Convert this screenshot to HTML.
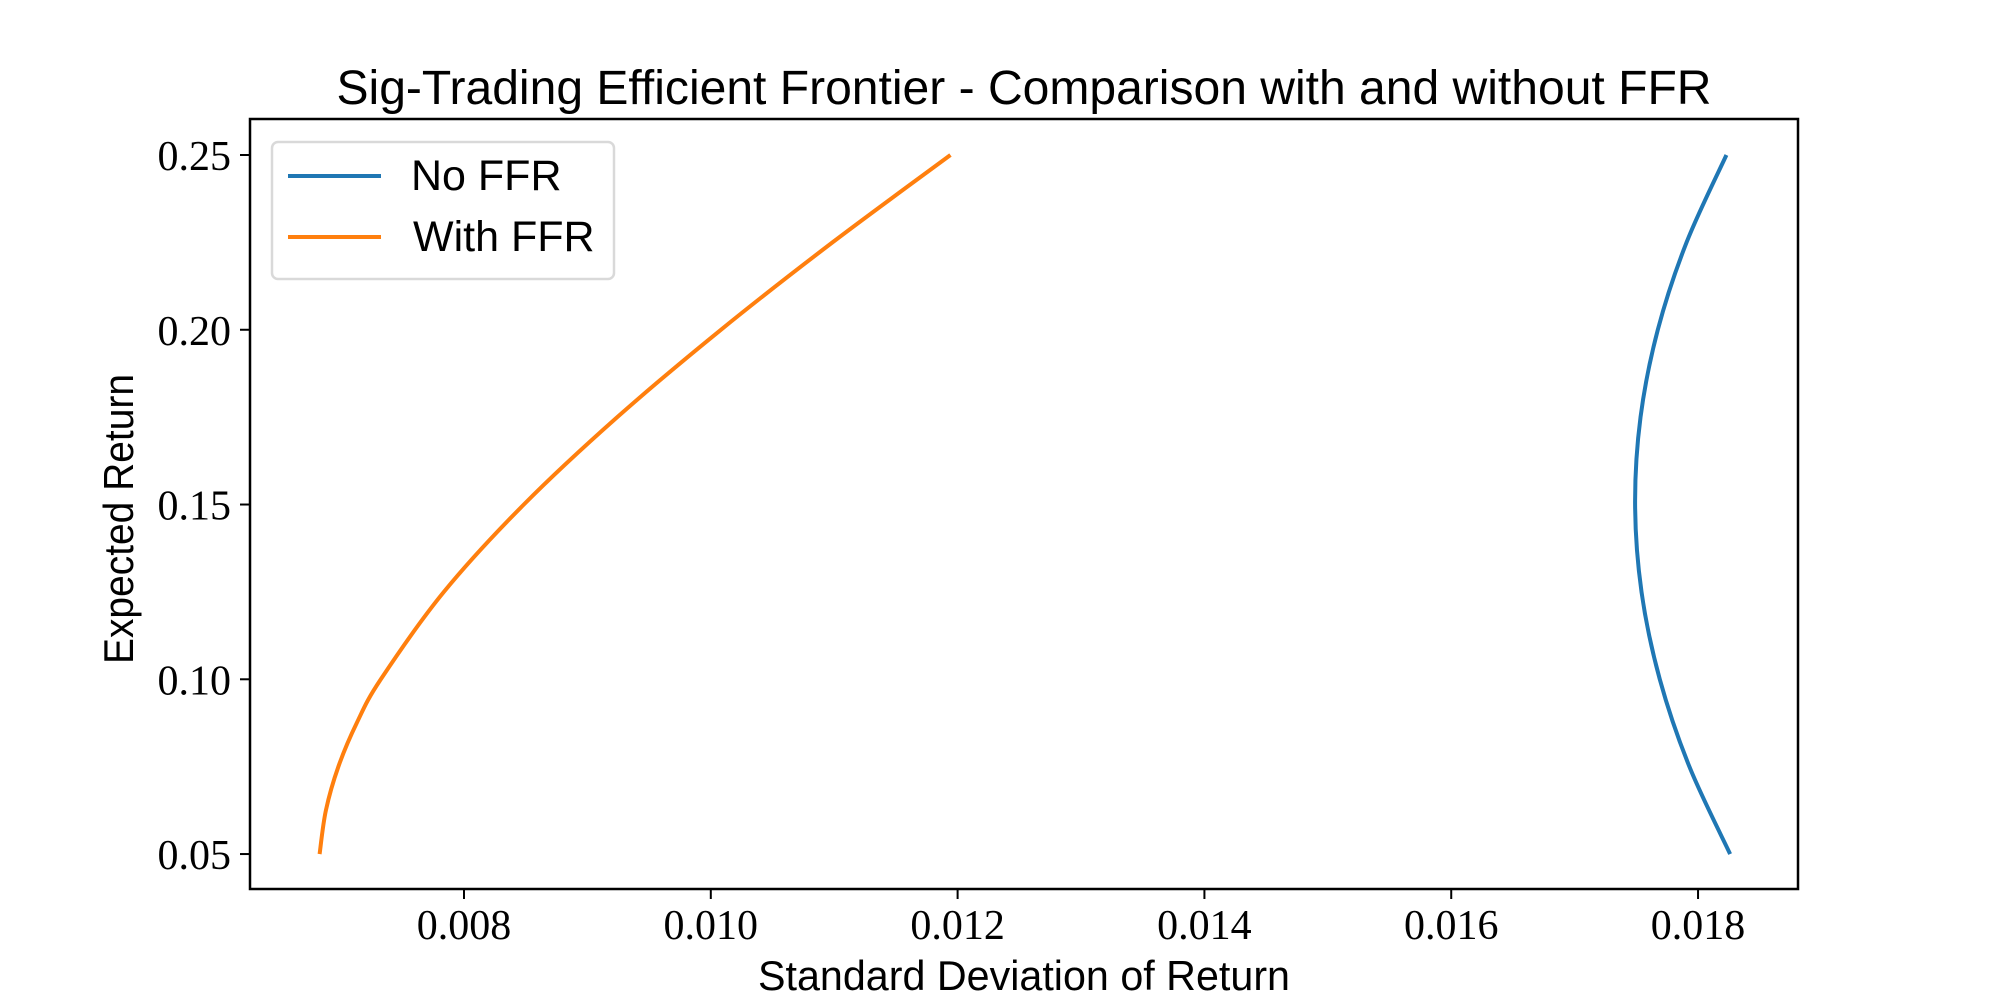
<!DOCTYPE html>
<html><head><meta charset="utf-8"><style>
html,body{margin:0;padding:0;background:#fff;}
svg{display:block;}
</style></head><body>
<svg id="chart" width="2000" height="1000" viewBox="0 0 2000 1000" xmlns="http://www.w3.org/2000/svg">
<rect width="2000" height="1000" fill="#fff"/>
<text x="1024" y="104" text-anchor="middle" font-family="'Liberation Sans', sans-serif" font-size="48" textLength="1375" lengthAdjust="spacingAndGlyphs">Sig-Trading Efficient Frontier - Comparison with and without FFR</text>
<g id="plot"></g>
<rect x="250" y="119" width="1548" height="770" fill="none" stroke="#000" stroke-width="2.5"/>
<g id="xticks"></g><g id="yticks"></g>
<text x="1024" y="990" text-anchor="middle" font-family="'Liberation Sans', sans-serif" font-size="42" textLength="532" lengthAdjust="spacingAndGlyphs">Standard Deviation of Return</text>
<text transform="translate(133,519) rotate(-90)" text-anchor="middle" font-family="'Liberation Sans', sans-serif" font-size="42" textLength="290" lengthAdjust="spacingAndGlyphs">Expected Return</text>
<g>
<rect x="272" y="142" width="342" height="137" rx="6" fill="#fff" fill-opacity="0.8" stroke="#d9d9d9" stroke-width="2.5"/>
<line x1="288" y1="176" x2="381" y2="176" stroke="#1f77b4" stroke-width="4"/>
<text x="411" y="190" font-family="'Liberation Sans', sans-serif" font-size="43">No FFR</text>
<line x1="288" y1="237" x2="381" y2="237" stroke="#ff7f0e" stroke-width="4"/>
<text x="413" y="251" font-family="'Liberation Sans', sans-serif" font-size="43">With FFR</text>
</g>
</svg>
<script>
const noFfrRet = [0.05,0.075,0.10,0.125,0.15,0.175,0.20,0.225,0.25];
const noFfrStd = [0.018260,0.017930,0.017690,0.017542,0.017490,0.017534,0.017674,0.017907,0.018230];
const withFfrRet = [0.05,0.0625,0.075,0.0875,0.10,0.125,0.15,0.175,0.20,0.225,0.25];
const withFfrStd = [0.006830,0.006881,0.006982,0.007131,0.007326,0.007837,0.008485,0.009242,0.010082,0.010986,0.011942];
const xTickValues = [0.008,0.010,0.012,0.014,0.016,0.018];
const xTickLabels = ["0.008","0.010","0.012","0.014","0.016","0.018"];
const yTickValues = [0.05,0.10,0.15,0.20,0.25];
const yTickLabels = ["0.05","0.10","0.15","0.20","0.25"];

const X0=250,X1=1798,Y0=889,Y1=119;
const xMin=0.006266,xMax=0.018810,yMin=0.04,yMax=0.2603;
function xs(v){return X0+(v-xMin)/(xMax-xMin)*(X1-X0);}
function ys(v){return Y0-(v-yMin)/(yMax-yMin)*(Y0-Y1);}
const NS="http://www.w3.org/2000/svg";
function smoothPath(px,py){
  let d="M"+px[0].toFixed(2)+","+py[0].toFixed(2);
  for(let i=0;i<px.length-1;i++){
    const p0=i>0?i-1:i,p3=i+2<px.length?i+2:i+1;
    const c1x=px[i]+(px[i+1]-px[p0])/6,c1y=py[i]+(py[i+1]-py[p0])/6;
    const c2x=px[i+1]-(px[p3]-px[i])/6,c2y=py[i+1]-(py[p3]-py[i])/6;
    d+=" C"+c1x.toFixed(2)+","+c1y.toFixed(2)+" "+c2x.toFixed(2)+","+c2y.toFixed(2)+" "+px[i+1].toFixed(2)+","+py[i+1].toFixed(2);
  }
  return d;
}
const plot=document.getElementById("plot");
function addSeries(sx,sy,color,name){
  const p=document.createElementNS(NS,"path");
  
  
  p.setAttribute("d",smoothPath(sx.map(xs),sy.map(ys)));
  p.setAttribute("fill","none");p.setAttribute("stroke",color);p.setAttribute("stroke-width","4");
  plot.appendChild(p);
}
addSeries(noFfrStd,noFfrRet,"#1f77b4","no-ffr-line");
addSeries(withFfrStd,withFfrRet,"#ff7f0e","with-ffr-line");

const xt=document.getElementById("xticks");
xTickValues.forEach((v,i)=>{
  const x=xs(v);
  const l=document.createElementNS(NS,"line");
  
  
  l.setAttribute("x1",x);l.setAttribute("x2",x);l.setAttribute("y1",Y0);l.setAttribute("y2",Y0+10);
  l.setAttribute("stroke","#000");l.setAttribute("stroke-width","2");xt.appendChild(l);
  const t=document.createElementNS(NS,"text");
  
  
  t.setAttribute("x",x);t.setAttribute("y",939);t.setAttribute("text-anchor","middle");
  t.setAttribute("font-family","'Liberation Serif', serif");t.setAttribute("font-size","42");
  t.textContent=xTickLabels[i];xt.appendChild(t);
});
const yt=document.getElementById("yticks");
yTickValues.forEach((v,i)=>{
  const y=ys(v);
  const l=document.createElementNS(NS,"line");
  
  
  l.setAttribute("x1",X0-10);l.setAttribute("x2",X0);l.setAttribute("y1",y);l.setAttribute("y2",y);
  l.setAttribute("stroke","#000");l.setAttribute("stroke-width","2");yt.appendChild(l);
  const t=document.createElementNS(NS,"text");
  
  
  t.setAttribute("x",231);t.setAttribute("y",y+15);t.setAttribute("text-anchor","end");
  t.setAttribute("font-family","'Liberation Serif', serif");t.setAttribute("font-size","42");
  t.textContent=yTickLabels[i];yt.appendChild(t);
});
</script>
</body></html>
